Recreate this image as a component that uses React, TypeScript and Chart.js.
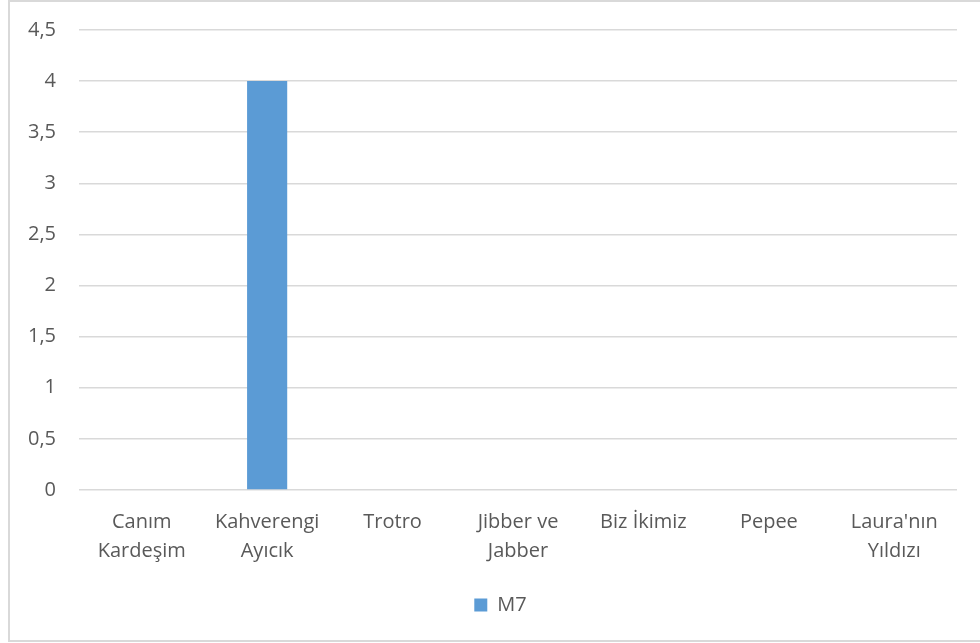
import React, { useEffect, useRef } from "react";
import { Chart, registerables } from "chart.js";

Chart.register(...registerables);

const categories: (string | string[])[] = [
  ["Canım", "Kardeşim"],
  ["Kahverengi", "Ayıcık"],
  "Trotro",
  ["Jibber ve", "Jabber"],
  "Biz İkimiz",
  "Pepee",
  ["Laura'nın", "Yıldızı"],
];
const seriesName = "M7";
const seriesValues = [0, 4, 0, 0, 0, 0, 0];
const yMin = 0;
const yMax = 4.5;
const yStep = 0.5;

const FONT = "'Open Sans', 'DejaVu Sans', sans-serif";
const TEXT = "#595959";
const GRID = "#d9d9d9";

const legendShift = {
  id: "legendShift",
  afterLayout(chart: any) {
    const lg = chart.legend;
    if (lg) {
      lg.left += 11;
      lg.right += 11;
    }
  },
};

export default function App() {
  const ref = useRef<HTMLCanvasElement | null>(null);
  useEffect(() => {
    if (!ref.current) return;
    const chart = new Chart(ref.current, {
      type: "bar",
      data: {
        labels: categories,
        datasets: [
          {
            label: seriesName,
            data: seriesValues,
            backgroundColor: "#5b9bd5",
            categoryPercentage: 1,
            barPercentage: 0.32,
          },
        ],
      },
      plugins: [legendShift],
      options: {
        animation: false,
        responsive: false,
        layout: { padding: { left: 22, right: 23, top: 30, bottom: 18 } },
        plugins: {
          tooltip: { enabled: false },
          legend: {
            position: "bottom",
            labels: {
              boxWidth: 13,
              boxHeight: 13,
              color: TEXT,
              font: { family: FONT, size: 20 },
              padding: 10,
            },
          },
        },
        scales: {
          x: {
            grid: { display: false },
            border: { display: false },
            ticks: {
              color: TEXT,
              font: { family: FONT, size: 20, lineHeight: 1.45 },
              padding: 10,
              maxRotation: 0,
              autoSkip: false,
            },
            afterFit: (s: any) => {
              s.height = 95;
            },
          },
          y: {
            min: yMin,
            max: yMax,
            grid: { color: GRID, lineWidth: 1.5, drawTicks: false },
            border: { display: false },
            ticks: {
              stepSize: yStep,
              color: TEXT,
              font: { family: FONT, size: 20 },
              padding: 23,
              callback: (v: any) => String(v).replace(".", ","),
            },
            afterFit: (s: any) => {
              s.width = 57;
              s.paddingTop = 0;
              s.paddingBottom = 0;
            },
          },
        },
      },
    });
    return () => chart.destroy();
  }, []);
  return (
    <div
      style={{
        position: "absolute",
        left: 0,
        top: 0,
        width: 980,
        height: 643,
        overflow: "hidden",
        background: "#fff",
      }}
    >
      <div
        style={{
          position: "absolute",
          left: 8,
          top: 0,
          width: 1000,
          height: 642,
          boxSizing: "border-box",
          border: "2px solid #d9d9d9",
        }}
      />
      <canvas
        ref={ref}
        width={980}
        height={643}
        style={{ position: "absolute", left: 0, top: 0, width: 980, height: 643 }}
      />
    </div>
  );
}
